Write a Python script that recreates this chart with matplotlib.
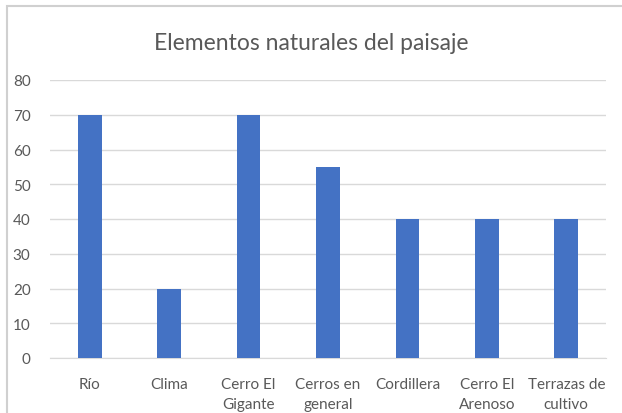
import matplotlib
matplotlib.use("Agg")
import matplotlib.pyplot as plt
from matplotlib.patches import Rectangle

categories = ["Río", "Clima", "Cerro El\nGigante", "Cerros en\ngeneral", "Cordillera", "Cerro El\nArenoso", "Terrazas de\ncultivo"]
values = [70, 20, 70, 55, 40, 40, 40]
yticks = [0, 10, 20, 30, 40, 50, 60, 70, 80]

plt.rcParams['font.family'] = ['Lato', 'DejaVu Sans']

fig = plt.figure(figsize=(6.22, 4.14), dpi=100)
fig.patches.append(Rectangle((7/622, -0.05), 1.0, 1 - 7/414 + 0.05, transform=fig.transFigure,
                             fill=False, edgecolor='#D0D0D0', linewidth=1.5))
ax = fig.add_axes([50/622, 1 - 359/414, 556/622, (359 - 81)/414])

x = list(range(len(categories)))
ax.bar(x, values, width=0.30, color='#4472C4', zorder=3)
ax.set_xlim(-0.5, len(categories) - 0.5)
ax.set_ylim(0, 80)
ax.set_yticks(yticks)
ax.set_xticks(x)
ax.set_xticklabels(categories, fontsize=11, color='#595959', linespacing=1.55)
ax.tick_params(axis='y', labelsize=11, labelcolor='#595959', length=0, pad=14)
ax.tick_params(axis='x', length=0, pad=14)
ax.grid(axis='y', color='#D9D9D9', linewidth=1, zorder=0)
for s in ['top', 'right', 'left']:
    ax.spines[s].set_visible(False)
ax.spines['bottom'].set_color('#D9D9D9')
ax.spines['bottom'].set_zorder(2)

fig.text(0.5, 1 - 43/414, "Elementos naturales del paisaje", ha='center', va='center',
         fontsize=16.5, color='#595959')

fig.savefig("out.png", dpi=100, facecolor='white')
